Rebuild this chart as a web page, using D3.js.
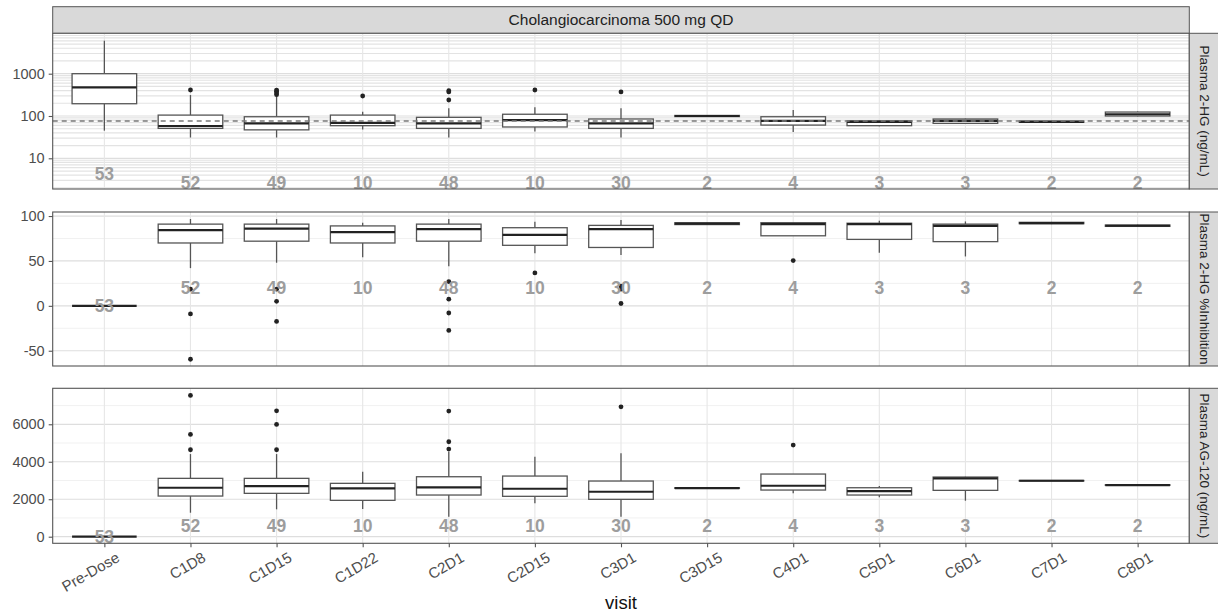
<!DOCTYPE html>
<html>
<head>
<meta charset="utf-8">
<script src="https://cdn.jsdelivr.net/npm/d3@7"></script>
<style>
  body { margin: 0; background: #fff; }
  svg { display: block; font-family: "Liberation Sans", Arial, sans-serif; }
</style>
</head>
<body>
<svg id="chart" width="1218" height="615"></svg>
<script>
// Visits on the x axis and number of subjects per visit
const visits = ["Pre-Dose","C1D8","C1D15","C1D22","C2D1","C2D15","C3D1","C3D15","C4D1","C5D1","C6D1","C7D1","C8D1"];
const counts = [53,52,49,10,48,10,30,2,4,3,3,2,2];

// Plasma 2-HG (ng/mL): box statistics per visit
const hgLow  = [45, 31, 31, 48, 31, 43, 31, 96, 42, 57, 66, 70, 98];
const hgQ1   = [195, 51, 47, 59, 51, 55, 51, 97, 61, 59, 67, 71, 100];
const hgMed  = [477, 58, 67, 69, 67, 80, 67, 100, 77, 73, 77, 73, 110];
const hgQ3   = [1000, 105, 96, 105, 93, 110, 85, 103, 96, 77, 85, 76, 124];
const hgHigh = [6030, 313, 290, 126, 152, 160, 152, 104, 139, 79, 87, 77, 128];
const hgOut  = [[], [412], [320, 350, 385, 410], [297], [396, 370, 239], [412], [370], [], [], [], [], [], []];
const hgRef  = 76;

// Plasma 2-HG % inhibition
const inhLow  = [0, 42, 48, 54, 44, 58.5, 56.7, 90, 78, 59, 55, 91, 88];
const inhQ1   = [0, 70, 72, 70, 72, 67.4, 65, 90.5, 78, 74, 71.5, 91.5, 88.5];
const inhMed  = [0, 84.4, 86, 82, 85.5, 79, 85.5, 91.5, 91, 91, 89, 92.2, 89.2];
const inhQ3   = [0, 91, 91, 89, 91, 87, 89.6, 92.5, 92.6, 92, 91, 93, 90];
const inhHigh = [0, 96.7, 96.7, 92.6, 96.7, 93.7, 95.6, 93, 93.5, 94.8, 94, 93.5, 90.5];
const inhOut  = [[], [18.5, -9, -59.5], [18.5, 5, -17.4], [], [27, 7.4, -8, -27.4], [36.7], [22, 18.5, 2.6], [], [50.4], [], [], [], []];

// Plasma AG-120 (ng/mL)
const agLow  = [0, 1280, 1461, 1477, 1067, 1781, 1067, 2580, 2314, 2101, 1920, 2970, 2740];
const agQ1   = [0, 2170, 2314, 1941, 2224, 2155, 1995, 2585, 2490, 2224, 2474, 2975, 2745];
const agMed  = [0, 2613, 2704, 2581, 2634, 2560, 2400, 2597, 2720, 2437, 3114, 2987, 2757];
const agQ3   = [0, 3114, 3114, 2848, 3200, 3237, 2971, 2610, 3344, 2613, 3184, 3000, 2770];
const agHigh = [0, 4410, 4410, 3467, 4533, 4267, 4448, 2615, 3344, 2704, 3200, 3005, 2775];
const agOut  = [[], [7541, 5461, 4640], [6720, 5994, 4640], [], [6704, 5067, 4677], [], [6933], [], [4890], [], [], [], []];

// Tick labels
const hgTicks  = [10, 100, 1000];
const inhTicks = [-50, 0, 50, 100];
const agTicks  = [0, 2000, 4000, 6000];

const facetTitle = "Cholangiocarcinoma 500 mg QD";
const xTitle = "visit";

const svg = d3.select("#chart");
const left = 52.7, right = 1189.3;
const stripW = 30;

// discrete x scale with 0.6 units of padding at either end
const pad = (right - left) * 0.6 / 13.2;
const xs = d3.scalePoint().domain(visits).range([left + pad, right - pad]);
const unit = (right - left) / 13.2;
const boxW = unit * 0.75;

const panels = [
  {
    top: 33.3, bottom: 189, label: "Plasma 2-HG (ng/mL)",
    scale: d3.scaleLog().domain([1.88, 9016]),
    ticks: hgTicks,
    minor: (() => { const a = []; for (let k = 0; k <= 3; k++) for (let m = 2; m <= 9; m++) a.push(m * Math.pow(10, k)); return a; })(),
    minorColor: "#e3e3e3", minorWidth: 1.2,
    low: hgLow, q1: hgQ1, med: hgMed, q3: hgQ3, high: hgHigh, out: hgOut,
    ref: hgRef, countY: i => i === 0 ? 4.4 : 2.6
  },
  {
    top: 212, bottom: 366, label: "Plasma 2-HG %Inhibition",
    scale: d3.scaleLinear().domain([-67, 104.5]),
    ticks: inhTicks,
    minor: [-25, 25, 75], minorColor: "#efefef", minorWidth: 0.9,
    low: inhLow, q1: inhQ1, med: inhMed, q3: inhQ3, high: inhHigh, out: inhOut,
    countY: i => i === 0 ? 0 : 20
  },
  {
    top: 388.3, bottom: 543.3, label: "Plasma AG-120 (ng/mL)",
    scale: d3.scaleLinear().domain([-352, 7920]),
    ticks: agTicks,
    minor: [1000, 3000, 5000, 7000], minorColor: "#efefef", minorWidth: 0.9,
    low: agLow, q1: agQ1, med: agMed, q3: agQ3, high: agHigh, out: agOut,
    countY: i => i === 0 ? 0 : 590
  }
];

// Facet title strip across the top
svg.append("rect")
  .attr("x", left).attr("y", 6.7).attr("width", right - left).attr("height", 26.6)
  .attr("fill", "#d9d9d9").attr("stroke", "#555").attr("stroke-width", 1);
svg.append("text")
  .attr("x", (left + right) / 2).attr("y", 20).attr("dy", "0.35em")
  .attr("text-anchor", "middle").attr("font-size", 15.5).attr("fill", "#222")
  .text(facetTitle);

panels.forEach((p, pi) => {
  const y = p.scale.range([p.bottom, p.top]);
  const g = svg.append("g");
  const [d0, d1] = p.scale.domain();

  g.append("rect").attr("x", left).attr("y", p.top).attr("width", right - left).attr("height", p.bottom - p.top).attr("fill", "#fff");

  // minor grid
  g.selectAll(".minor").data(p.minor.filter(v => v > d0 && v < d1))
    .join("line")
    .attr("x1", left).attr("x2", right)
    .attr("y1", d => y(d)).attr("y2", d => y(d))
    .attr("stroke", p.minorColor).attr("stroke-width", p.minorWidth);
  // major grid
  g.selectAll(".major").data(p.ticks)
    .join("line")
    .attr("x1", left).attr("x2", right)
    .attr("y1", d => y(d)).attr("y2", d => y(d))
    .attr("stroke", "#dedede").attr("stroke-width", 1.2);
  // vertical grid
  g.selectAll(".vgrid").data(visits)
    .join("line")
    .attr("x1", d => xs(d)).attr("x2", d => xs(d))
    .attr("y1", p.top).attr("y2", p.bottom)
    .attr("stroke", "#e6e6e6").attr("stroke-width", 1.1);

  // boxes
  visits.forEach((v, i) => {
    const cx = xs(v);
    const bg = g.append("g");
    bg.append("line").attr("x1", cx).attr("x2", cx)
      .attr("y1", y(p.high[i])).attr("y2", y(p.q3[i]))
      .attr("stroke", "#555").attr("stroke-width", 1.3);
    bg.append("line").attr("x1", cx).attr("x2", cx)
      .attr("y1", y(p.q1[i])).attr("y2", y(p.low[i]))
      .attr("stroke", "#555").attr("stroke-width", 1.3);
    bg.append("rect")
      .attr("x", cx - boxW / 2).attr("width", boxW)
      .attr("y", y(p.q3[i])).attr("height", Math.max(0, y(p.q1[i]) - y(p.q3[i])))
      .attr("fill", "#fff")
      .attr("stroke", "#555").attr("stroke-width", 1.3);
    bg.append("line")
      .attr("x1", cx - boxW / 2).attr("x2", cx + boxW / 2)
      .attr("y1", y(p.med[i])).attr("y2", y(p.med[i]))
      .attr("stroke", "#222").attr("stroke-width", 2.2);
    bg.selectAll("circle").data(p.out[i]).join("circle")
      .attr("cx", cx).attr("cy", d => y(d)).attr("r", 2.4)
      .attr("fill", "#222");
  });

  // reference line drawn above the boxes
  if (p.ref !== undefined) {
    g.append("line")
      .attr("x1", left).attr("x2", right)
      .attr("y1", y(p.ref)).attr("y2", y(p.ref))
      .attr("stroke", "#7a7a7a").attr("stroke-width", 1.6).attr("stroke-dasharray", "5,4");
  }

  // sample size labels
  g.selectAll(".cnt").data(visits).join("text")
    .attr("x", d => xs(d))
    .attr("y", (d, i) => y(p.countY(i)))
    .attr("dy", "0.36em")
    .attr("text-anchor", "middle")
    .attr("font-size", 17.5).attr("font-weight", "bold").attr("fill", "#9d9d9d")
    .text((d, i) => counts[i]);

  // panel border
  g.append("rect").attr("x", left).attr("y", p.top).attr("width", right - left).attr("height", p.bottom - p.top)
    .attr("fill", "none").attr("stroke", "#555").attr("stroke-width", 1.1);

  // y axis
  const ya = svg.append("g").attr("transform", `translate(${left},0)`)
    .call(d3.axisLeft(y).tickValues(p.ticks).tickFormat(d => String(d)).tickSize(4).tickPadding(4));
  ya.select(".domain").remove();
  ya.selectAll(".tick line").attr("stroke", "#555").attr("stroke-width", 1.1);
  ya.selectAll(".tick text").attr("font-size", 14.5).attr("fill", "#4d4d4d")
    .attr("font-family", "Liberation Sans, Arial, sans-serif");

  // right strip
  svg.append("rect")
    .attr("x", right).attr("y", p.top).attr("width", stripW).attr("height", p.bottom - p.top)
    .attr("fill", "#d9d9d9").attr("stroke", "#555").attr("stroke-width", 1);
  svg.append("text")
    .attr("transform", `translate(${right + 15},${(p.top + p.bottom) / 2}) rotate(90)`)
    .attr("text-anchor", "middle").attr("dy", "0.35em")
    .attr("font-size", 13.5).attr("fill", "#222")
    .text(p.label);

  // x axis on the bottom panel only
  if (pi === panels.length - 1) {
    const xa = svg.append("g").attr("transform", `translate(0,${p.bottom})`)
      .call(d3.axisBottom(xs).tickSize(4).tickPadding(3));
    xa.select(".domain").remove();
    xa.selectAll(".tick line").attr("stroke", "#555").attr("stroke-width", 1.1);
    xa.selectAll(".tick text")
      .attr("font-size", 15).attr("fill", "#4d4d4d")
      .attr("font-family", "Liberation Sans, Arial, sans-serif")
      .attr("text-anchor", "end")
      .attr("transform", "translate(7,2) rotate(-30)")
      .attr("dy", "0.71em");
  }
});

svg.append("text")
  .attr("x", (left + right) / 2).attr("y", 603).attr("dy", "0.35em")
  .attr("text-anchor", "middle").attr("font-size", 18.5).attr("fill", "#111")
  .text(xTitle);
</script>
</body>
</html>
